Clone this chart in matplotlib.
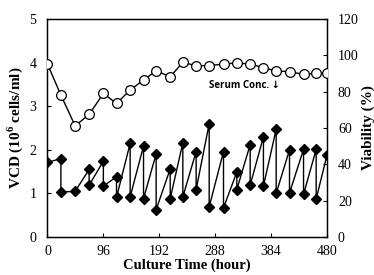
import numpy as np
import matplotlib.pyplot as plt

plt.rcParams['font.family'] = ['Liberation Serif', 'DejaVu Serif']
plt.rcParams['mathtext.fontset'] = 'custom'
plt.rcParams['mathtext.rm'] = 'Liberation Serif'
plt.rcParams['mathtext.bf'] = 'Liberation Serif:bold'

# viability (%) over time
via_time = [0, 23, 47.5, 71.6, 96, 118.6, 142, 165, 186.7, 210.8, 232.5,
            255.4, 277.8, 302.4, 325.3, 348.2, 371, 392.9, 415.8, 439.9, 461.6, 480]
via_pct = [95.2, 78.1, 61.2, 67.5, 79.0, 73.5, 80.9, 86.4, 91.5, 88.2, 96.1,
           94.3, 94.3, 95.2, 95.8, 95.2, 93.2, 91.4, 91.0, 89.5, 90.1, 90.4]

# viable cell density, before / after each passage
vcd_time = [0, 23, 23, 47.5, 71.6, 71.6, 96, 96, 118.6, 118.6, 142, 142,
            165, 165, 186.7, 186.7, 210.8, 210.8, 232.5, 232.5, 255.4, 255.4,
            277.8, 277.8, 302.4, 302.4, 325.3, 325.3, 348.2, 348.2, 371, 371,
            392.9, 392.9, 415.8, 415.8, 439.9, 439.9, 461.6, 461.6, 480]
vcd = [1.71, 1.80, 1.03, 1.05, 1.55, 1.19, 1.74, 1.17, 1.38, 0.91, 2.15, 0.92,
       2.09, 0.88, 1.91, 0.63, 1.56, 0.88, 2.16, 0.92, 1.96, 1.09,
       2.60, 0.69, 1.96, 0.67, 1.49, 1.09, 2.12, 1.19, 2.30, 1.17,
       2.47, 1.00, 2.00, 1.01, 2.01, 0.98, 2.01, 0.87, 1.87]

fig = plt.figure(figsize=(3.74, 2.75), dpi=100)
ax = fig.add_axes([0.127, 0.138, 0.747, 0.793])
ax2 = ax.twinx()

ax.plot(vcd_time, vcd, color='black', lw=1.0, marker='D', ms=5,
        mfc='black', mec='black', zorder=3)
ax2.plot(via_time, via_pct, color='black', lw=1.0, marker='o', ms=7,
         mfc='white', mec='black', mew=0.9, zorder=3)

ax.set_xlim(0, 480)
ax.set_ylim(0, 5)
ax2.set_ylim(0, 120)
ax.set_xticks(np.arange(0, 481, 96))
ax.set_yticks(np.arange(0, 6, 1))
ax2.set_yticks(np.arange(0, 121, 20))

for a in (ax, ax2):
    a.tick_params(direction='in', length=3, width=0.8, labelsize=10, pad=8)
    for s in a.spines.values():
        s.set_linewidth(0.9)
ax.tick_params(axis='x', pad=6)

ax.set_xlabel('Culture Time (hour)', fontsize=10.5, fontweight='bold', labelpad=0)
ax.set_ylabel(r'VCD (10$^{\mathbf{6}}$ cells/ml)', fontsize=11, fontweight='bold', labelpad=3)
ax2.set_ylabel('Viability (%)', fontsize=11, fontweight='bold', labelpad=2)

ax.text(277, 3.48, 'Serum Conc. \u2193', fontsize=7, fontweight='bold',
        family=['Open Sans', 'DejaVu Sans'], va='center', ha='left')

fig.savefig('out.png', dpi=100)
